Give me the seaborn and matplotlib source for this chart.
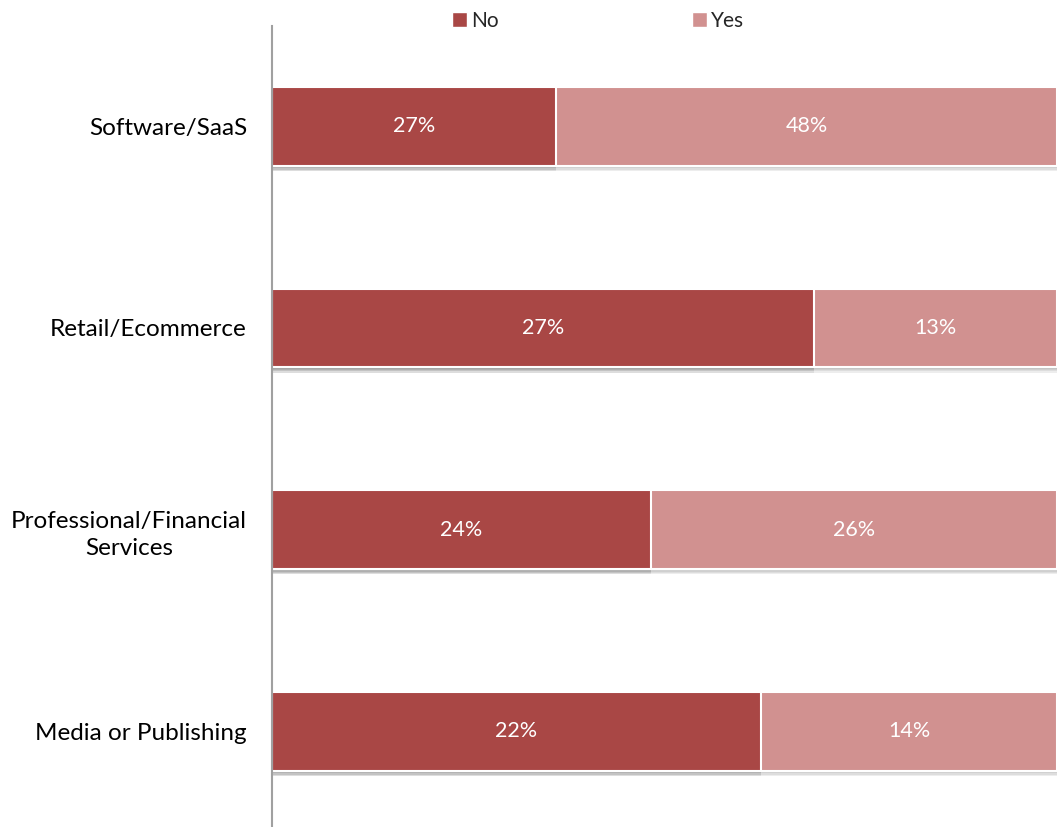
import matplotlib
matplotlib.use("Agg")
import matplotlib.pyplot as plt
import matplotlib.patheffects as pe
from matplotlib.patches import Patch
import seaborn as sns
import pandas as pd

categories = ["Software/SaaS", "Retail/Ecommerce",
              "Professional/Financial\nServices", "Media or Publishing"]
no_labels = ["27%", "27%", "24%", "22%"]
yes_labels = ["48%", "13%", "26%", "14%"]
# share of the bar taken by "No" (percent of total width)
no_share = [36.2, 69.1, 48.3, 62.3]
yes_share = [100 - v for v in no_share]

NO_COLOR = "#A94745"
YES_COLOR = "#D19190"

sns.set_theme(style="white")
plt.rcParams["font.family"] = ["Lato", "DejaVu Sans"]

df = pd.DataFrame({"category": categories, "no": no_share, "yes": yes_share})
df["total"] = df["no"] + df["yes"]

fig = plt.figure(figsize=(10.57, 8.27), dpi=100)
ax_top = 1 - 25.5 / 827
ax_bottom = (827 - 832) / 827
ax = fig.add_axes([272 / 1057, ax_bottom, 1 - 272 / 1057, ax_top - ax_bottom])

shadow = [pe.SimplePatchShadow(offset=(0, -k), shadow_rgbFace="#707070", alpha=0.12)
          for k in (1, 2, 3, 4)] + [pe.Normal()]

sns.barplot(data=df, y="category", x="total", orient="h", color=YES_COLOR,
            width=0.39, saturation=1, ax=ax, edgecolor="white", linewidth=1.5)
sns.barplot(data=df, y="category", x="no", orient="h", color=NO_COLOR,
            width=0.39, saturation=1, ax=ax, edgecolor="white", linewidth=1.5)
for p in ax.patches:
    p.set_path_effects(shadow)

for i in range(len(categories)):
    ax.text(no_share[i] / 2, i, no_labels[i], ha="center", va="center",
            color="white", fontsize=15.5)
    ax.text(no_share[i] + yes_share[i] / 2, i, yes_labels[i], ha="center",
            va="center", color="white", fontsize=15.5)

ax.set_xlim(0, 100)
ax.set_ylim(len(categories) - 0.5, -0.5)
ax.set_xlabel("")
ax.set_ylabel("")
ax.set_xticks([])
for s in ["top", "right", "bottom"]:
    ax.spines[s].set_visible(False)
ax.spines["left"].set_color("#A0A0A0")
ax.spines["left"].set_linewidth(1.5)
ax.tick_params(axis="y", length=0, pad=18)
for t in ax.get_yticklabels():
    t.set_fontsize(17.5)
    t.set_color("black")
    t.set_multialignment("center")
    t.set_linespacing(1.35)

handles = [Patch(facecolor=NO_COLOR, label="No"), Patch(facecolor=YES_COLOR, label="Yes")]
fig.legend(handles=handles, loc="center", bbox_to_anchor=(598 / 1057, 1 - 21 / 827),
           ncol=2, frameon=False, fontsize=15, handlelength=0.7, handleheight=0.7,
           handletextpad=0.2, columnspacing=9.3)

fig.savefig("out.png", dpi=100)
